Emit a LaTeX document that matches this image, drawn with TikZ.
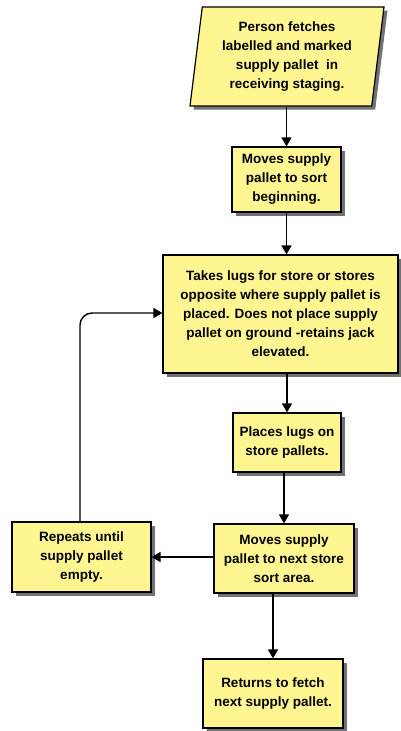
\documentclass[tikz,border=0pt]{standalone}
\usepackage{fontspec}
\setmainfont{Liberation Sans}
\usetikzlibrary{shapes.geometric,shadows,arrows.meta}
\definecolor{boxfill}{RGB}{255,246,145}
\tikzset{
  flowbox/.style={draw=black, line width=1.2pt, fill=boxfill, align=center,
    inner sep=0pt, font=\fontsize{13.5}{19}\selectfont\bfseries,
    drop shadow={shadow xshift=3.5pt, shadow yshift=-3.5pt, fill=black!65, opacity=0.85}},
  iobox/.style={flowbox, trapezium, trapezium left angle=80, trapezium right angle=100,
    trapezium stretches body},
  flow/.style={line width=1.4pt, -{Triangle[width=10pt,length=9pt]}}
}
\begin{document}
\begin{tikzpicture}[x=1pt,y=-1pt]
\useasboundingbox (0,0) rectangle (401,731);
% steps of the pallet sort
\node[iobox, minimum width=194pt, minimum height=99pt] (fetch) at (287,56.5)
  {Person fetches\\labelled and marked\\supply pallet\ \ in\\receiving staging.};
\node[flowbox, minimum width=109pt, minimum height=65pt] (move) at (286.5,179.5)
  {Moves supply\\pallet to sort\\beginning.};
\node[flowbox, minimum width=235pt, minimum height=118pt] (take) at (280.5,314)
  {Takes lugs for store or stores\\opposite where supply pallet is\\placed. Does not place supply\\pallet on ground -retains jack\\elevated.};
\node[flowbox, minimum width=108pt, minimum height=59pt] (place) at (287,442.5)
  {Places lugs on\\store pallets.};
\node[flowbox, minimum width=140pt, minimum height=69pt] (next) at (284,558.5)
  {Moves supply\\pallet to next store\\sort area.};
\node[flowbox, minimum width=139pt, minimum height=70pt] (repeat) at (81.5,557)
  {Repeats until\\supply pallet\\empty.};
\node[flowbox, minimum width=140pt, minimum height=69pt] (return) at (273,693.5)
  {Returns to fetch\\next supply pallet.};
% connectors
\draw[flow] (fetch.south -| move.north) -- (move.north);
\draw[flow] (move.south) -- (move.south |- take.north);
\draw[flow] (take.south -| place.north) -- (place.north);
\draw[flow] (place.south -| next.north) -- (next.north);
\draw[flow] (next.south -| return.north) -- (return.north);
\draw[flow] (next.west |- repeat.east) -- (repeat.east);
\draw[flow, rounded corners=12pt] (repeat.north -| 80,0) -- (80,313) -- (take.west |- 0,313);
\end{tikzpicture}
\end{document}
